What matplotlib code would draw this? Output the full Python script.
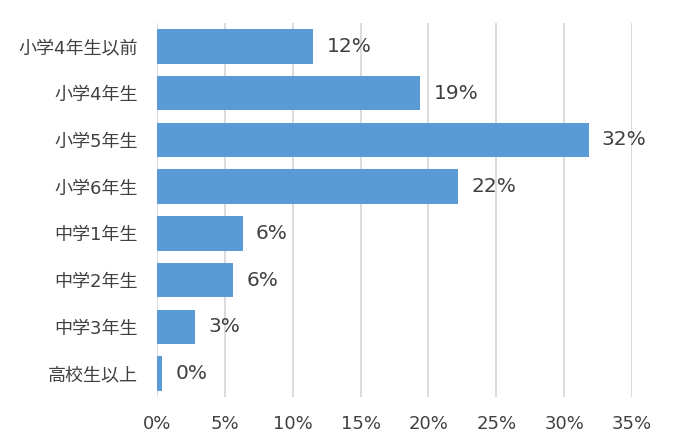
import matplotlib.pyplot as plt

# DejaVu pour les chiffres (plus large), Noto CJK pour les kanji
plt.rcParams['font.family'] = ['DejaVu Sans', 'Noto Sans CJK JP']

# données
categories = ["小学4年生以前", "小学4年生", "小学5年生", "小学6年生",
              "中学1年生", "中学2年生", "中学3年生", "高校生以上"]
values = [0.115, 0.194, 0.318, 0.222, 0.063, 0.056, 0.028, 0.004]
xticks = [0, 0.05, 0.10, 0.15, 0.20, 0.25, 0.30, 0.35]
xtick_labels = ["0%", "5%", "10%", "15%", "20%", "25%", "30%", "35%"]

text_color = "#404040"
bar_color = "#5B9BD5"

fig = plt.figure(figsize=(6.77, 4.47), dpi=100)
ax = fig.add_axes([0.232, 0.112, 0.7015, 0.8365])

pos = list(range(len(categories)))
ax.barh(pos, values, height=0.74, color=bar_color, zorder=3)
ax.set_ylim(len(categories) - 0.5, -0.5)
ax.set_xlim(0, 0.35)

ax.set_yticks(pos)
ax.set_yticklabels(categories, fontsize=13, color=text_color)
ax.set_xticks(xticks)
ax.set_xticklabels(xtick_labels, fontsize=13, color=text_color)
ax.tick_params(axis='both', length=0)
ax.tick_params(axis='y', pad=14)
ax.tick_params(axis='x', pad=13)

ax.grid(axis='x', color="#d9d9d9", linewidth=1.3, zorder=0)
for s in ax.spines.values():
    s.set_visible(False)

# étiquettes de valeur à droite des barres
for p, v in zip(pos, values):
    ax.text(v + 0.0098, p, f"{v:.0%}", va='center', ha='left',
            fontsize=14.5, color=text_color)

fig.savefig("out.png", dpi=100)
